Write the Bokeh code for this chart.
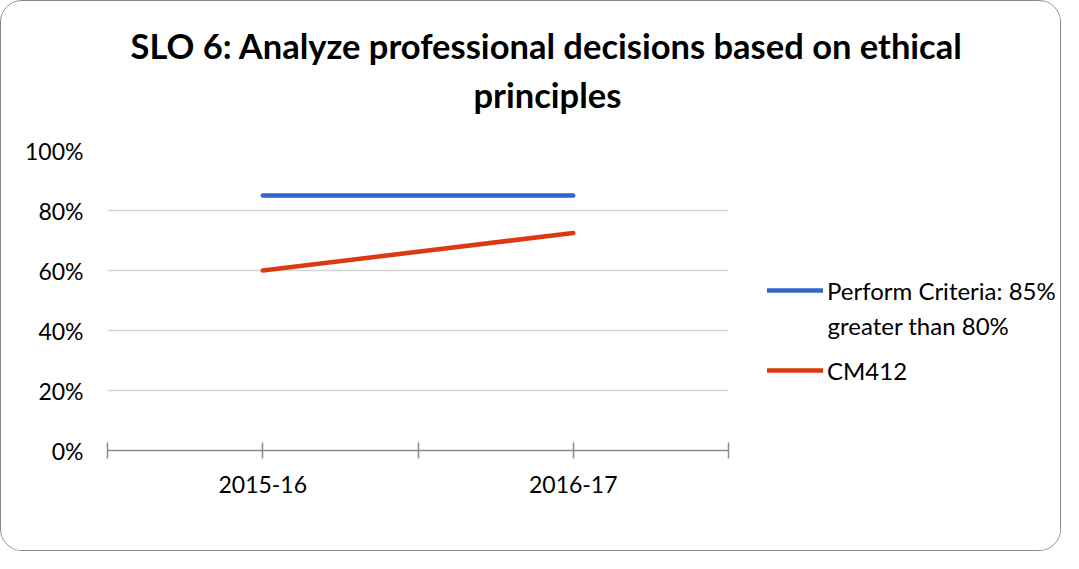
from bokeh.plotting import figure
from bokeh.models import FixedTicker, NumeralTickFormatter, Legend, LegendItem, Range1d, Title, Label, Grid
from bokeh.embed import file_html
from bokeh.resources import INLINE

categories = ["2015-16", "2016-17"]
criteria = [0.85, 0.85]
cm412 = [0.60, 0.725]
y_ticks = [0, 0.2, 0.4, 0.6, 0.8, 1.0]
series_names = ["Perform Criteria: 85%", "CM412"]
series_name_2nd_line = "greater than 80%"
title_lines = ["SLO 6: Analyze professional decisions based on ethical", "principles"]

FONT = "Lato"
xs = list(range(len(categories)))

W, H = 1061, 551
LEFT, TOP, BOTTOM = 106, 149, 102
PLOT_W = 621  # pixel width of the category area
frame_w = W - LEFT
x_start = -0.5
x_end = x_start + len(categories) * frame_w / PLOT_W
cat_bounds = (x_start, x_start + len(categories))

p = figure(width=W, height=H, output_backend="svg", toolbar_location=None,
           x_range=Range1d(x_start, x_end), y_range=Range1d(0, 1),
           min_border_left=LEFT, min_border_right=0, min_border_top=TOP, min_border_bottom=BOTTOM,
           styles={"border": "1px solid #8a8a8a", "border-radius": "22px", "overflow": "hidden"})

t2 = Title(text=title_lines[1], align="left", offset=366, standoff=72,
           text_font=FONT, text_font_style="bold", text_font_size="34.5px", text_color="#000000")
t1 = Title(text=title_lines[0], align="left", offset=23, standoff=0,
           text_font=FONT, text_font_style="bold", text_font_size="34.5px", text_color="#000000")
try:
    t1.standoff = -60
except Exception:
    t1.standoff = 0
p.add_layout(t2, "above")
p.add_layout(t1, "above")

p.outline_line_color = None
p.xgrid.grid_line_color = None

if "cross_bounds" in Grid.properties():
    p.ygrid.grid_line_color = "#d4d4d4"
    p.ygrid.grid_line_width = 1.5
    p.ygrid.ticker = FixedTicker(ticks=y_ticks)
    p.ygrid.cross_bounds = cat_bounds
else:
    p.ygrid.grid_line_color = None
    p.segment(x0=[cat_bounds[0]] * len(y_ticks), x1=[cat_bounds[1]] * len(y_ticks),
              y0=y_ticks, y1=y_ticks, line_color="#d4d4d4", line_width=1.5, level="underlay")

p.yaxis.ticker = FixedTicker(ticks=y_ticks)
p.yaxis.formatter = NumeralTickFormatter(format="0%")
p.yaxis.axis_line_color = None
p.yaxis.major_tick_line_color = None
p.yaxis.minor_tick_line_color = None
p.yaxis.major_label_standoff = 18
p.yaxis.major_label_text_font = FONT
p.yaxis.major_label_text_font_size = "23px"
p.yaxis.major_label_text_color = "#000000"

xt = [-0.5, 0, 0.5, 1, 1.5]
p.xaxis.ticker = FixedTicker(ticks=xt)
overrides = {-0.5: "", 0.5: "", 1.5: ""}
for i, c in enumerate(categories):
    overrides[i] = c
p.xaxis.major_label_overrides = overrides
p.xaxis.bounds = cat_bounds
p.xaxis.axis_line_color = "#8c8c8c"
p.xaxis.axis_line_width = 1.5
p.xaxis.major_tick_line_color = "#8c8c8c"
p.xaxis.major_tick_line_width = 1.5
p.xaxis.major_tick_in = 8
p.xaxis.major_tick_out = 8
p.xaxis.minor_tick_line_color = None
p.xaxis.major_label_standoff = 17
p.xaxis.major_label_text_font = FONT
p.xaxis.major_label_text_font_size = "23px"
p.xaxis.major_label_text_color = "#000000"

r1 = p.line(xs, criteria, line_color="#3366cc", line_width=4.5, line_cap="round")
r2 = p.line(xs, cm412, line_color="#dc3912", line_width=4.5, line_cap="round")

legend = Legend(items=[LegendItem(label=series_names[0], renderers=[r1]),
                       LegendItem(label=series_names[1], renderers=[r2])],
                location=(660, 65), orientation="vertical")
legend.border_line_color = None
legend.background_fill_alpha = 0
legend.padding = 0
legend.margin = 0
legend.spacing = 50
legend.glyph_width = 56
legend.glyph_height = 30
legend.label_height = 30
legend.label_standoff = 4
legend.label_text_font = FONT
legend.label_text_font_size = "24px"
legend.label_text_color = "#000000"
p.add_layout(legend, "center")

p.add_layout(Label(x=720, y=125, x_units="screen", y_units="screen", text=series_name_2nd_line,
                   text_baseline="alphabetic", text_align="left", text_font=FONT,
                   text_font_size="24px", text_color="#000000"))

open("out.html", "w").write(file_html(p, INLINE))
